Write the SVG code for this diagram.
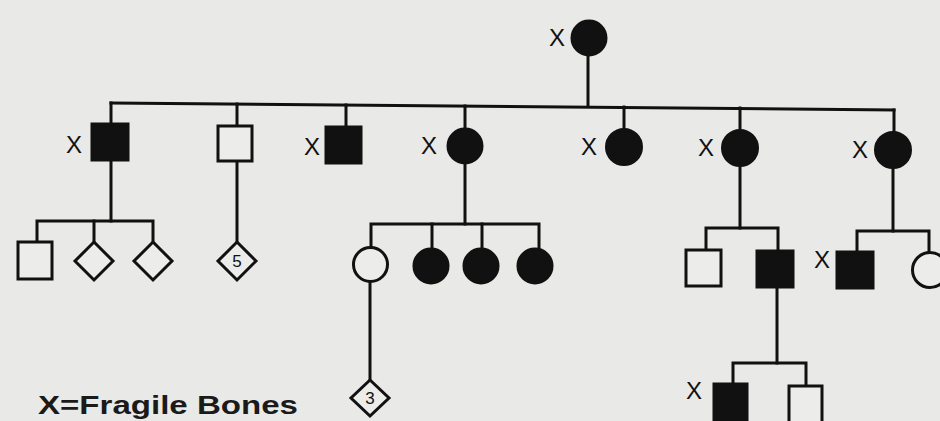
<svg xmlns="http://www.w3.org/2000/svg" width="940" height="421" viewBox="0 0 940 421">
<style>
.ln{stroke:#111;stroke-width:3;fill:none;stroke-linecap:square}
.f{fill:#111;stroke:#111;stroke-width:3}
.o{fill:#ececea;stroke:#111;stroke-width:3}
.x{font-family:"Liberation Sans",Arial,sans-serif;font-size:24px;fill:#111}
.n{font-family:"Liberation Sans",Arial,sans-serif;font-size:17px;fill:#111;text-anchor:middle}
.lg{font-family:"Liberation Sans",Arial,sans-serif;font-size:25px;font-weight:bold;fill:#1a1a1a}
</style>
<rect width="940" height="421" fill="#e9e9e7"/>
<g id="connectors">
<line class="ln" x1="588" y1="56" x2="588" y2="106"/>
<line class="ln" x1="111" y1="103" x2="894" y2="110"/>
<line class="ln" x1="111" y1="103" x2="111" y2="123"/>
<line class="ln" x1="237" y1="104" x2="237" y2="125"/>
<line class="ln" x1="346" y1="105" x2="346" y2="126"/>
<line class="ln" x1="465" y1="106" x2="465" y2="128"/>
<line class="ln" x1="624" y1="107" x2="624" y2="128"/>
<line class="ln" x1="740" y1="108" x2="740" y2="129"/>
<line class="ln" x1="894" y1="110" x2="894" y2="132"/>
<line class="ln" x1="111" y1="161" x2="111" y2="221"/>
<polyline class="ln" points="37,241 37,221 153,221 153,242"/>
<line class="ln" x1="94" y1="221" x2="94" y2="242"/>
<line class="ln" x1="237" y1="161" x2="237" y2="242"/>
<line class="ln" x1="465" y1="164" x2="465" y2="224"/>
<polyline class="ln" points="371,247 371,224 539,224 539,249"/>
<line class="ln" x1="432" y1="224" x2="432" y2="249"/>
<line class="ln" x1="482" y1="224" x2="482" y2="249"/>
<line class="ln" x1="370" y1="282" x2="370" y2="379"/>
<line class="ln" x1="740" y1="166" x2="740" y2="228"/>
<polyline class="ln" points="706,249 706,228 778,228 778,250"/>
<line class="ln" x1="777" y1="288" x2="777" y2="363"/>
<polyline class="ln" points="733,383 733,363 806,363 806,385"/>
<line class="ln" x1="893" y1="168" x2="893" y2="231"/>
<polyline class="ln" points="857,251 857,231 929,231 929,252"/>
</g>
<g id="g1-f"><circle class="f" cx="589" cy="38" r="17"/><text class="x" x="549" y="46">X</text></g>
<g id="g2-m1"><rect class="f" x="92" y="124" width="36" height="36"/><text class="x" x="66" y="153">X</text></g>
<g id="g2-m2"><rect class="o" x="218" y="126" width="34" height="35"/></g>
<g id="g2-m3"><rect class="f" x="326" y="127" width="35" height="36"/><text class="x" x="304" y="155">X</text></g>
<g id="g2-f4"><circle class="f" cx="465" cy="146" r="17"/><text class="x" x="421" y="154">X</text></g>
<g id="g2-f5"><circle class="f" cx="624" cy="147" r="17.5"/><text class="x" x="581" y="155">X</text></g>
<g id="g2-f6"><circle class="f" cx="740" cy="148" r="17.5"/><text class="x" x="698" y="156">X</text></g>
<g id="g2-f7"><circle class="f" cx="893" cy="150" r="17.5"/><text class="x" x="852" y="158">X</text></g>
<g id="g3-m1"><rect class="o" x="18" y="242" width="34" height="37"/></g>
<g id="g3-d1"><polygon class="o" points="94,242 113,261 94,280 75,261"/></g>
<g id="g3-d2"><polygon class="o" points="153,242 172,261 153,280 134,261"/></g>
<g id="g3-d5"><polygon class="o" points="237,242 256,261 237,280 218,261"/><text class="n" x="237" y="267">5</text></g>
<g id="g3-f1"><circle class="o" cx="370.5" cy="264.5" r="17"/></g>
<g id="g3-f2"><circle class="f" cx="431" cy="266" r="17"/></g>
<g id="g3-f3"><circle class="f" cx="481" cy="266" r="17"/></g>
<g id="g3-f4"><circle class="f" cx="535" cy="266" r="17"/></g>
<g id="g4-d3"><polygon class="o" points="370,380 389,398 370,416 351,398"/><text class="n" x="370" y="404">3</text></g>
<g id="g3-m2"><rect class="o" x="686" y="250" width="35" height="36"/></g>
<g id="g3-m3"><rect class="f" x="757" y="251" width="36" height="36"/></g>
<g id="g4-m1"><rect class="f" x="714" y="384" width="33" height="40"/><text class="x" x="686" y="399">X</text></g>
<g id="g4-m2"><rect class="o" x="789" y="386" width="33" height="38"/></g>
<g id="g3-m4"><rect class="f" x="837" y="252" width="36" height="36"/><text class="x" x="814" y="268">X</text></g>
<g id="g3-f5"><circle class="o" cx="930" cy="270" r="17.5"/></g>
<text class="lg" x="38" y="414" textLength="260" lengthAdjust="spacingAndGlyphs">X=Fragile Bones</text>
</svg>
